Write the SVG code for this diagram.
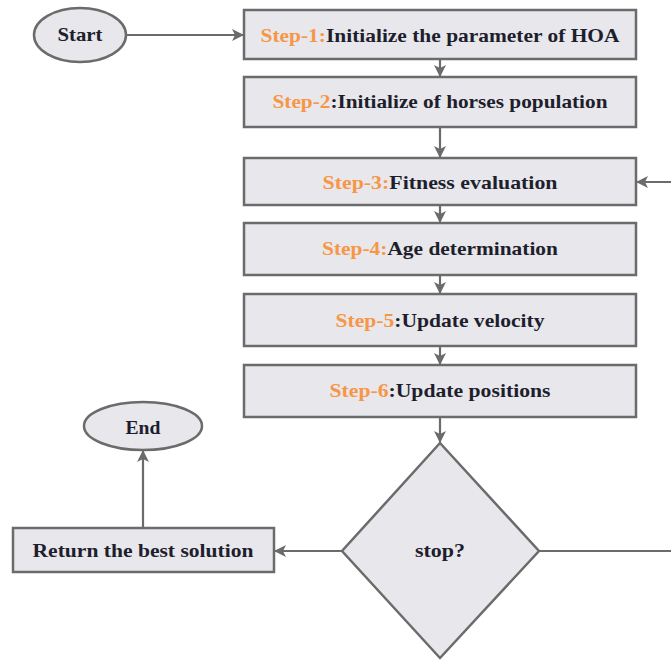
<svg xmlns="http://www.w3.org/2000/svg" width="671" height="663" viewBox="0 0 671 663">
<defs>
<marker id="ah" viewBox="0 0 12 12" refX="11" refY="6" markerWidth="12" markerHeight="12" markerUnits="userSpaceOnUse" orient="auto">
<path d="M0,0 L12,6 L0,12 L3,6 Z" fill="#6b6b6b"/>
</marker>
</defs>
<style>
.box{fill:#e7e7ec;stroke:#6b6b6b;stroke-width:2.5}
.t{font-family:'Liberation Serif','DejaVu Serif',serif;font-weight:700;font-size:19px;fill:#1e1e2c;text-anchor:middle}
.o{fill:#f79646}
.c{fill:none;stroke:#6b6b6b;stroke-width:2.2}
</style>
<rect width="671" height="663" fill="#ffffff"/>
<g id="connectors">
<path class="c" d="M127,35 H243" marker-end="url(#ah)"/>
<path class="c" d="M440,59 V76" marker-end="url(#ah)"/>
<path class="c" d="M440,127 V157" marker-end="url(#ah)"/>
<path class="c" d="M440,205 V222" marker-end="url(#ah)"/>
<path class="c" d="M440,275 V293" marker-end="url(#ah)"/>
<path class="c" d="M440,346 V364" marker-end="url(#ah)"/>
<path class="c" d="M440,417 V442" marker-end="url(#ah)"/>
<path class="c" d="M342,551 H275" marker-end="url(#ah)"/>
<path class="c" d="M143,527 V451" marker-end="url(#ah)"/>
<path class="c" d="M539,551 H671"/>
<path class="c" d="M671,182 H637" marker-end="url(#ah)"/>
</g>
<g id="start">
<ellipse class="box" cx="80" cy="35" rx="46" ry="27"/>
<text class="t" x="80" y="41" textLength="45" lengthAdjust="spacingAndGlyphs">Start</text>
</g>
<g id="step1">
<rect class="box" x="244" y="10" width="392" height="49"/>
<text class="t" x="440" y="42" textLength="359" lengthAdjust="spacingAndGlyphs"><tspan class="o">Step-1:</tspan>Initialize the parameter of HOA</text>
</g>
<g id="step2">
<rect class="box" x="244" y="77" width="392" height="50"/>
<text class="t" x="440" y="108" textLength="335" lengthAdjust="spacingAndGlyphs"><tspan class="o">Step-2</tspan>:Initialize of horses population</text>
</g>
<g id="step3">
<rect class="box" x="244" y="158" width="392" height="47"/>
<text class="t" x="440" y="189" textLength="235" lengthAdjust="spacingAndGlyphs"><tspan class="o">Step-3:</tspan>Fitness evaluation</text>
</g>
<g id="step4">
<rect class="box" x="244" y="223" width="392" height="52"/>
<text class="t" x="440" y="255" textLength="236" lengthAdjust="spacingAndGlyphs"><tspan class="o">Step-4:</tspan>Age determination</text>
</g>
<g id="step5">
<rect class="box" x="244" y="294" width="392" height="52"/>
<text class="t" x="440" y="327" textLength="209" lengthAdjust="spacingAndGlyphs"><tspan class="o">Step-5</tspan>:Update velocity</text>
</g>
<g id="step6">
<rect class="box" x="244" y="365" width="392" height="52"/>
<text class="t" x="440" y="397" textLength="221" lengthAdjust="spacingAndGlyphs"><tspan class="o">Step-6</tspan>:Update positions</text>
</g>
<g id="stop">
<path class="box" d="M440,443 L539,551 L440,658 L342,551 Z"/>
<text class="t" x="440" y="557" textLength="50" lengthAdjust="spacingAndGlyphs">stop?</text>
</g>
<g id="return">
<rect class="box" x="13" y="528" width="261" height="44"/>
<text class="t" x="143" y="557" textLength="221" lengthAdjust="spacingAndGlyphs">Return the best solution</text>
</g>
<g id="end">
<ellipse class="box" cx="143" cy="426" rx="59" ry="24"/>
<text class="t" x="143" y="434" textLength="35" lengthAdjust="spacingAndGlyphs">End</text>
</g>
</svg>
